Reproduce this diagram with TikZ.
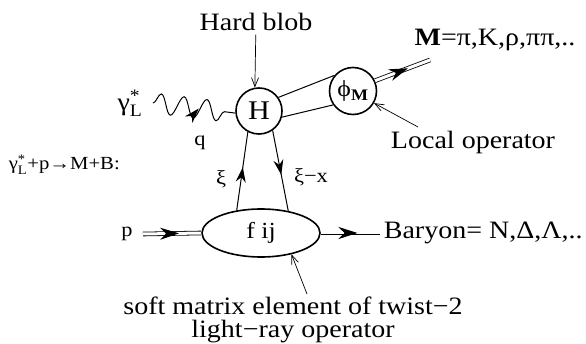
\documentclass[tikz,border=0pt]{standalone}
\usepackage{amsmath}
\usepackage{fontspec}
\setmainfont{Liberation Serif}[FakeStretch=1.12]
\usetikzlibrary{
  shapes.geometric, arrows.meta, positioning, calc,
  decorations.pathmorphing, decorations.markings
}
\newcommand{\gstarL}{$\text{γ}^{\text{*}}_{\text{L}}$}

\begin{document}
\begin{tikzpicture}[
    x=1pt, y=-1pt,
    font=\fontsize{25}{27}\selectfont,
    line width=1pt,
    >=Stealth,
    blob/.style={circle, draw, line width=1.6pt, minimum size=#1, inner sep=0pt},
    softblob/.style={ellipse, draw, line width=1.6pt, minimum width=118pt, minimum height=48pt, inner sep=0pt},
    ptr/.style={-{Straight Barb[length=9pt, width=7pt]}, line width=0.7pt},
    midarrow/.style={postaction={decorate}, decoration={markings, mark=at position #1 with {\arrow{Stealth[length=15pt, width=10pt, inset=5pt]}}}},
    bigarrow/.style={postaction={decorate}, decoration={markings, mark=at position #1 with {\arrow{Stealth[length=19pt, width=12pt, inset=6pt]}}}},
    hadron/.style={double, double distance=3pt, line width=0.8pt},
    photon/.style={decorate, decoration={snake, amplitude=10pt, segment length=23pt}},
    small/.style={font=\fontsize{20}{22}\selectfont},
]
    \path[use as bounding box, fill=white] (0,0) rectangle (586,344);

    % Blobs
    \node[blob=46pt, font=\fontsize{27}{27}\selectfont] (hblob) at (259,111) {H};
    \node[blob=47pt, font=\fontsize{23}{23}\selectfont] (phiblob) at (353,91) {ϕ\textsubscript{\textbf{M}}};
    \node[softblob, font=\fontsize{23}{23}\selectfont] (fblob) at (261,233) {f ij};

    % Labels
    \node (hardlbl) at (256,22) {Hard blob};
    \node[font=\fontsize{25}{27}\selectfont] (gamlbl) at (130,103) {\gstarL};
    \node[font=\fontsize{18.5}{20}\selectfont, anchor=west] (reaclbl) at (5,165) {\gstarL+p→M+B:};
    \node[small] (qlbl) at (200,143) {q};
    \node (mlbl) at (495,40) {\textbf{M}=π,K,ρ,ππ,..};
    \node (locop) at (473,142) {Local operator};
    \node[small] (xilbl) at (221,179) {ξ};
    \node[small] (ximxlbl) at (311,177) {ξ−x};
    \node[small] (plbl) at (127,234) {p};
    \node[anchor=west] (barlbl) at (380,233) {Baryon= N,Δ,Λ,..};
    \node[align=center, font=\fontsize{25}{23}\selectfont] (softlbl) at (293,320) {soft matrix element of twist−2\\light−ray operator};

    % Photon
    \coordinate (gam) at (153,103);
    \draw[photon] (gam) -- (hblob.185);
    \path[postaction={decorate}, decoration={markings, mark=at position 46pt with {\pgftransformrotate{55}\arrow{Stealth[length=15pt, width=10pt, inset=5pt]}}}] (gam) -- (hblob.185);

    % Hard blob to meson
    \draw (hblob.35) -- (phiblob.140);
    \draw (hblob.-15) -- (phiblob.215);
    \coordinate (mout) at (430,60);
    \draw[hadron] (phiblob.25) -- (mout);
    \path[bigarrow=0.6] (phiblob.25) -- (mout);

    % Parton lines
    \draw[midarrow=0.55] (fblob.137) -- (hblob.242);
    \draw[midarrow=0.55] (hblob.305) -- (fblob.39);

    % Baryon lines
    \coordinate (pin) at (143,234);
    \draw[hadron] (pin) -- (fblob.west);
    \path[bigarrow=0.62] (pin) -- (fblob.west);
    \draw[hadron] (fblob.east) -- (barlbl.west);
    \path[bigarrow=0.62] (fblob.east) -- (barlbl.west);

    % Pointers
    \draw[ptr] (hardlbl) -- (hblob.100);
    \coordinate (lotail) at (418,127);
    \draw[ptr] (lotail) -- (phiblob.-30);
    \coordinate (softtail) at (307,294);
    \draw[ptr] (softtail) -- (fblob.-35);

\end{tikzpicture}
\end{document}
